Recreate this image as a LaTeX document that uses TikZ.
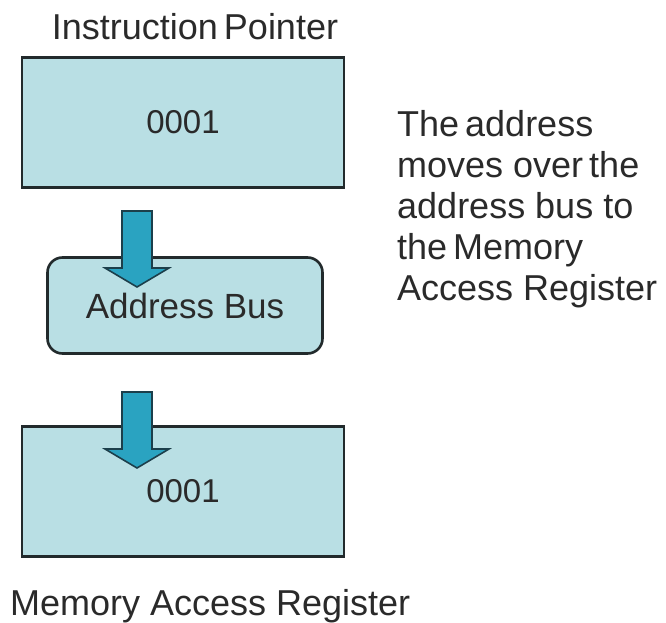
\documentclass[tikz,border=0pt]{standalone}
\usepackage{fontspec}
\setmainfont{Liberation Sans}
\definecolor{boxfill}{HTML}{B9DFE4}
\definecolor{boxline}{HTML}{222A2C}
\definecolor{arrfill}{HTML}{2AA3C1}
\definecolor{arrline}{HTML}{1C3F4B}
\definecolor{txt}{HTML}{2A2A2A}
\tikzset{
  reg/.style={draw=boxline, line width=2.6pt, fill=boxfill, minimum width=322pt, minimum height=130pt, inner sep=0pt, text=txt, font=\fontsize{33}{38}\selectfont},
  bus/.style={draw=boxline, line width=2.6pt, fill=boxfill, rounded corners=15pt, minimum width=275pt, minimum height=96pt, inner sep=0pt, text=txt, font=\fontsize{35}{40}\selectfont},
  lbl/.style={text=txt, inner sep=0pt, font=\fontsize{36}{41}\selectfont},
  blockarrow/.style={draw=arrline, line width=1.6pt, fill=arrfill, line join=miter}
}
\begin{document}
\begin{tikzpicture}[x=1pt,y=-1pt]
\useasboundingbox (0,0) rectangle (666,623);
\node[reg] (ip) at (183,122.5) {0001};
\node[lbl] (iplbl) at (195,27) {Instruction\,Pointer};
\node[bus] (ab) at (185,305.5) {Address Bus};
\node[reg] (mar) at (183,491.5) {0001};
\node[lbl, anchor=base west] (marlbl) at (10,615) {Memory Access Register};
\node[lbl, anchor=base west, align=left] (note) at (397,300)
  {The\,address\\moves over\,the\\address bus to\\the\,Memory\\Access Register};
% block arrows
\draw[blockarrow] (122,211) -- (152,211) -- (152,268) -- (169,268) -- (137,287) -- (105,268) -- (122,268) -- cycle;
\draw[blockarrow] (122,392) -- (152,392) -- (152,449) -- (169,449) -- (137,468) -- (105,449) -- (122,449) -- cycle;
\end{tikzpicture}
\end{document}
